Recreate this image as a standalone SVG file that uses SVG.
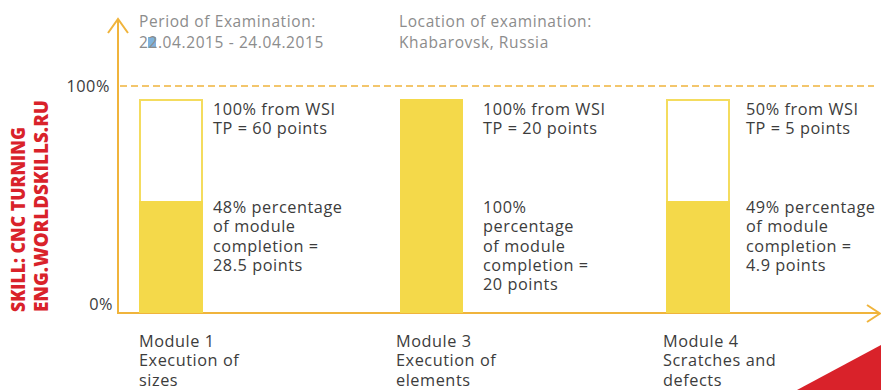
<svg xmlns="http://www.w3.org/2000/svg" width="881" height="390" viewBox="0 0 881 390">
<style>
.t{font-family:"Open Sans","Noto Sans",sans-serif;font-size:16.3px;letter-spacing:0.55px;fill:#3c3c3c}
.h{font-family:"Open Sans","Noto Sans",sans-serif;font-size:15.5px;letter-spacing:0.6px;fill:#8c8c8c}
.ax{stroke:#f0b43c;stroke-width:2;fill:none}
.bar{fill:#f4d94a}
.box{fill:#fff;stroke:#f4dc5e;stroke-width:2}
.red{font-family:"Open Sans","Noto Sans",sans-serif;font-weight:800;font-size:20px;fill:#d9222a}
</style>
<rect width="881" height="390" fill="#fff"/>
<g id="header">
<text class="h" x="139" y="27">Period of Examination:</text>
<rect x="148" y="37" width="8" height="11" fill="#7fb2dc"/>
<text class="h" x="139" y="48">22.04.2015 - 24.04.2015</text>
<text class="h" x="399" y="27">Location of examination:</text>
<text class="h" x="399" y="48">Khabarovsk, Russia</text>
</g>
<g id="side">
<text class="red" transform="translate(25,312) rotate(-90)" textLength="185" lengthAdjust="spacingAndGlyphs">SKILL: CNC TURNING</text>
<text class="red" transform="translate(48,312) rotate(-90)" textLength="212" lengthAdjust="spacingAndGlyphs">ENG.WORLDSKILLS.RU</text>
</g>
<g id="connectors">
<line class="ax" x1="118" y1="19" x2="118" y2="314"/>
<polyline class="ax" points="108,33 118,19 128,33"/>
<line class="ax" x1="117" y1="313" x2="879" y2="313"/>
<polyline class="ax" points="867,305 880,313.5 867,322"/>
<line x1="120" y1="86" x2="874" y2="86" stroke="#f0b43c" stroke-width="1.5" stroke-dasharray="7,4"/>
</g>
<g id="axis-labels">
<text class="t" x="110" y="92" text-anchor="end" fill="#555">100%</text>
<text class="t" x="113" y="310" text-anchor="end">0%</text>
</g>
<g id="module1">
<rect class="box" x="140" y="100" width="62" height="212"/>
<rect class="bar" x="139" y="201" width="64" height="112"/>
<text class="t" x="213" y="115">100% from WSI</text>
<text class="t" x="213" y="134">TP = 60 points</text>
<text class="t" x="213" y="213">48% percentage</text>
<text class="t" x="213" y="232">of module</text>
<text class="t" x="213" y="252">completion =</text>
<text class="t" x="213" y="271">28.5 points</text>
<text class="t" x="139" y="347">Module 1</text>
<text class="t" x="139" y="366">Execution of</text>
<text class="t" x="139" y="386">sizes</text>
</g>
<g id="module3">
<rect class="bar" x="400" y="99" width="63" height="214"/>
<text class="t" x="483" y="115">100% from WSI</text>
<text class="t" x="483" y="134">TP = 20 points</text>
<text class="t" x="483" y="213">100%</text>
<text class="t" x="483" y="232">percentage</text>
<text class="t" x="483" y="252">of module</text>
<text class="t" x="483" y="271">completion =</text>
<text class="t" x="483" y="290">20 points</text>
<text class="t" x="396" y="347">Module 3</text>
<text class="t" x="396" y="366">Execution of</text>
<text class="t" x="396" y="386">elements</text>
</g>
<g id="module4">
<rect class="box" x="667" y="100" width="62" height="212"/>
<rect class="bar" x="666" y="201" width="64" height="112"/>
<text class="t" x="746" y="115">50% from WSI</text>
<text class="t" x="746" y="134">TP = 5 points</text>
<text class="t" x="746" y="213">49% percentage</text>
<text class="t" x="746" y="232">of module</text>
<text class="t" x="746" y="252">completion =</text>
<text class="t" x="746" y="271">4.9 points</text>
<text class="t" x="663" y="347">Module 4</text>
<text class="t" x="663" y="366">Scratches and</text>
<text class="t" x="663" y="386">defects</text>
</g>
<polygon points="797,390 881,345 881,390" fill="#d9222a"/>
</svg>
